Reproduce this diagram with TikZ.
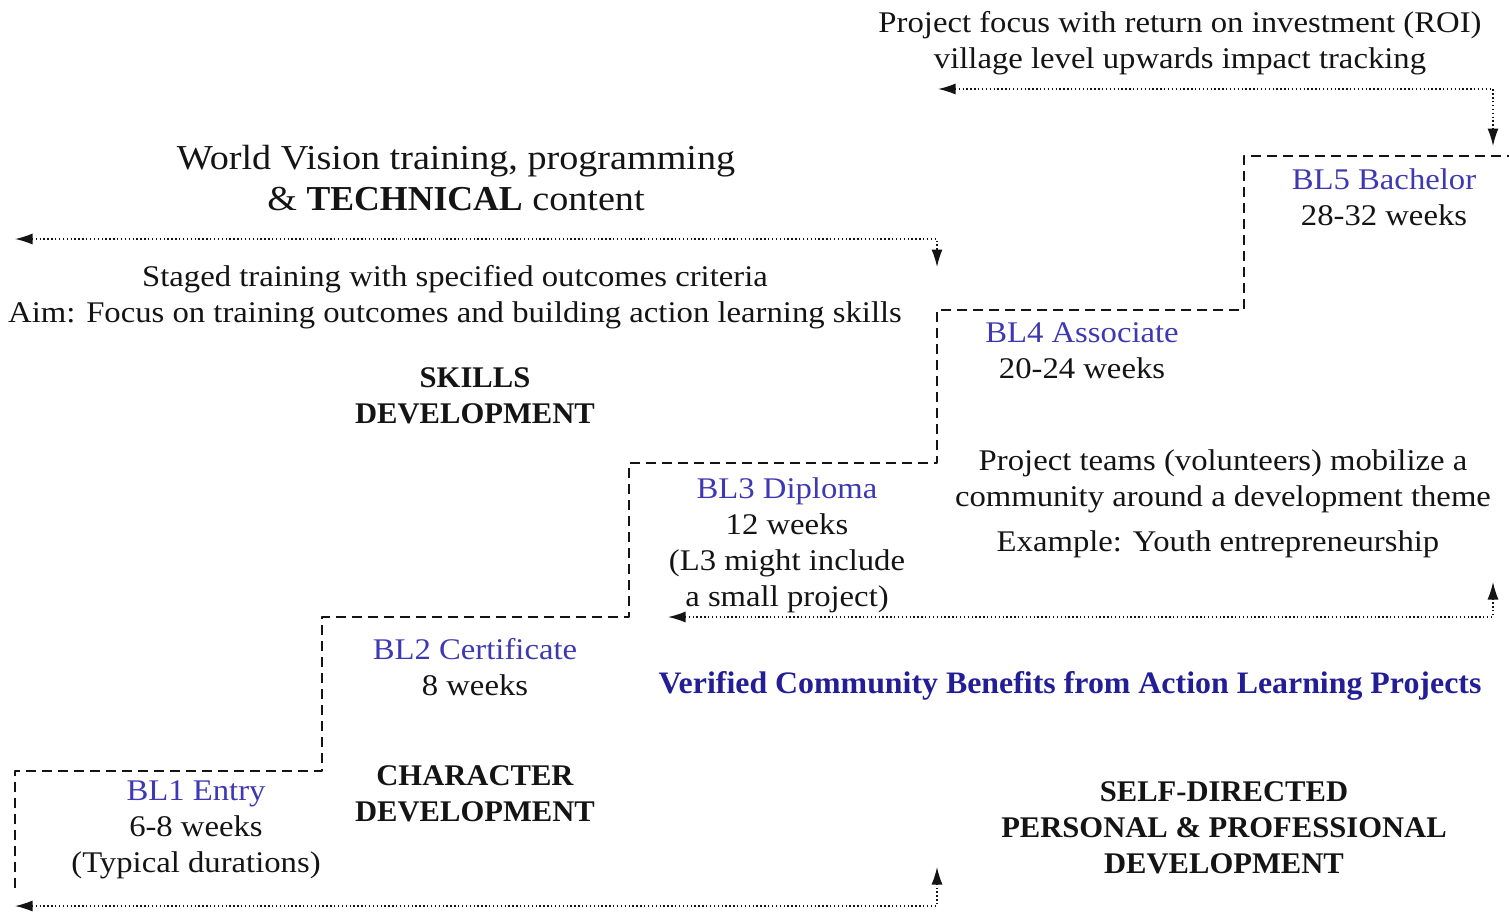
\documentclass[tikz,border=0pt]{standalone}
\usepackage{fontspec}
\setmainfont[FakeStretch=1.09, BoldFeatures={FakeStretch=1.02}]{Liberation Serif}
\usepackage{xcolor}
\usetikzlibrary{arrows.meta}
\definecolor{wvblue}{RGB}{62,56,178}
\definecolor{wvdeep}{RGB}{36,30,150}
\definecolor{wvink}{RGB}{20,20,20}
\newcommand{\lvlname}[1]{\textcolor{wvblue}{#1}}
\tikzset{
  txt/.style={align=center, inner sep=0pt, yshift=-1.2pt, text=wvink, font=\fontsize{12}{14.4}\selectfont},
  bigtxt/.style={txt, font=\fontsize{14}{16.4}\selectfont},
  head/.style={txt, font=\fontsize{12}{14.4}\selectfont\bfseries},
  bluehead/.style={head, text=wvdeep, font=\fontsize{12.5}{15}\selectfont\bfseries},
  stair/.style={draw=wvink, line width=0.6pt, dash pattern=on 4pt off 2.4pt},
  dotarr/.style={{Latex[length=7pt,width=4.4pt]}-{Latex[length=7pt,width=4.4pt]},
    draw=wvink, line width=0.55pt, densely dotted},
  every picture/.append style={line join=round}
}

\begin{document}
\begin{tikzpicture}[x=0.4pt, y=-0.4pt]
  \useasboundingbox (0,0) rectangle (1509,913);
  % staircase of levels
  \draw[stair] (15,888) -- (15,771) -- (322,771) -- (322,617) -- (629,617)
    -- (629,463) -- (937,463) -- (937,310) -- (1244,310) -- (1244,156) -- (1509,156);
  % level labels
  \node[txt] (bl1) at (196,827) {\lvlname{BL1 Entry}\\6-8 weeks\\(Typical durations)};
  \node[txt] (bl2) at (475,664) {\lvlname{BL2 Certificate}\\8 weeks};
  \node[txt] (bl3) at (787,542) {\lvlname{BL3 Diploma}\\12 weeks\\(L3 might include\\a small project)};
  \node[txt] (bl4) at (1082,348) {\lvlname{BL4 Associate}\\20-24 weeks};
  \node[txt] (bl5) at (1384,194) {\lvlname{BL5 Bachelor}\\28-32 weeks};
  % headings
  \node[head] (charDev) at (475,791) {CHARACTER\\DEVELOPMENT};
  \node[head] (skillDev) at (475,393) {SKILLS\\DEVELOPMENT};
  \node[head] (selfDev) at (1224,825) {SELF-DIRECTED\\PERSONAL \& PROFESSIONAL\\DEVELOPMENT};
  \node[bluehead] (benefits) at (1070,683) {Verified Community Benefits from Action Learning Projects};
  % descriptions
  \node[bigtxt] (wvTitle) at (456,175) {World Vision training, programming\\\& \textbf{TECHNICAL} content};
  \node[txt] (staged) at (455,294) {Staged training with specified outcomes criteria\\Aim: Focus on training outcomes and building action learning skills};
  \node[txt] (teams) at (1223,478) {Project teams (volunteers) mobilize a\\community around a development theme};
  \node[txt] (example) at (1218,541) {Example: Youth entrepreneurship};
  \node[txt] (roi) at (1180,40) {Project focus with return on investment (ROI)\\village level upwards impact tracking};
  % dotted arrows
  \coordinate (roiL) at (938,89);
  \coordinate (roiC) at (1493,89);
  \coordinate (roiD) at (1493,146);
  \coordinate (wvL) at (15,239);
  \coordinate (wvC) at (937,239);
  \coordinate (wvD) at (937,267);
  \coordinate (projL) at (668,617);
  \coordinate (projC) at (1493,617);
  \coordinate (projU) at (1493,582);
  \coordinate (baseL) at (15,906);
  \coordinate (baseC) at (937,906);
  \coordinate (baseU) at (937,867);
  \draw[dotarr] (roiL) -- (roiC) -- (roiD);
  \draw[dotarr] (wvL) -- (wvC) -- (wvD);
  \draw[dotarr] (projL) -- (projC) -- (projU);
  \draw[dotarr] (baseL) -- (baseC) -- (baseU);
\end{tikzpicture}
\end{document}
